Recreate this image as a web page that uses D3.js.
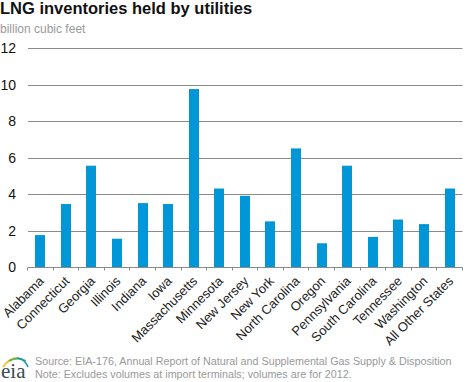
<!DOCTYPE html>
<html>
<head>
<meta charset="utf-8">
<script src="https://cdn.jsdelivr.net/npm/d3@7"></script>
<style>
  html, body { margin: 0; padding: 0; background: #fff; }
  svg { display: block; font-family: "Liberation Sans", Arial, sans-serif; }
</style>
</head>
<body>
<svg id="chart" width="468" height="382"></svg>
<script>
const states = ["Alabama", "Connecticut", "Georgia", "Illinois", "Indiana", "Iowa", "Massachusetts",
  "Minnesota", "New Jersey", "New York", "North Carolina", "Oregon", "Pennsylvania",
  "South Carolina", "Tennessee", "Washington", "All Other States"];
const inventories = [1.75, 3.45, 5.55, 1.55, 3.5, 3.45, 9.75, 4.3, 3.9, 2.5, 6.5, 1.3, 5.55, 1.65, 2.6, 2.35, 4.3];
const yTicks = [0, 2, 4, 6, 8, 10, 12];
const sourceLines = [
  "Source: EIA-176, Annual Report of Natural and Supplemental Gas Supply & Disposition",
  "Note: Excludes volumes at import terminals; volumes are for 2012."
];

const margin = { top: 48, left: 27.5, right: 5.5, bottom: 115 };
const width = 468, height = 382;
const svg = d3.select("#chart");

const x = d3.scaleBand().domain(states).range([margin.left, width - margin.right]).paddingInner(0.6).paddingOuter(0.3);
const y = d3.scaleLinear().domain([0, 12]).range([height - margin.bottom, margin.top]);

// title
svg.append("text").attr("x", 0).attr("y", 14).attr("fill", "#111")
  .style("font-size", "16.5px").style("font-weight", "bold").text("LNG inventories held by utilities");
svg.append("text").attr("x", 0).attr("y", 33).attr("fill", "#999")
  .style("font-size", "12px").text("billion cubic feet");

// gridlines
svg.append("g").selectAll("line").data(yTicks.slice(1)).join("line")
  .attr("x1", 28).attr("x2", width - margin.right)
  .attr("y1", d => Math.round(y(d)) + 0.5).attr("y2", d => Math.round(y(d)) + 0.5)
  .attr("stroke", "#8a8a8a").attr("stroke-width", 1);

// y labels
svg.append("g").selectAll("text").data(yTicks).join("text")
  .attr("x", 16).attr("y", d => y(d) + 5).attr("text-anchor", "end")
  .attr("fill", "#111").style("font-size", "14px").text(d => d);

// bars
svg.append("g").selectAll("rect").data(inventories).join("rect")
  .attr("x", (d, i) => Math.round(x(states[i]))).attr("width", Math.round(x.bandwidth()))
  .attr("y", d => y(d)).attr("height", d => y(0) - y(d))
  .attr("fill", "#0096d7");

// x axis
const axis = svg.append("g").attr("transform", `translate(0,${Math.round(y(0)) + 0.5})`);
axis.append("line").attr("x1", 28).attr("x2", width - margin.right).attr("stroke", "#8a8a8a");
axis.selectAll("line.tick").data(d3.range(states.length + 1)).join("line").attr("class", "tick")
  .attr("x1", i => Math.floor(margin.left + i * x.step()) + 0.5)
  .attr("x2", i => Math.floor(margin.left + i * x.step()) + 0.5)
  .attr("y1", 0).attr("y2", 3).attr("stroke", "#8a8a8a");
axis.selectAll("text").data(states).join("text")
  .attr("text-anchor", "end").attr("fill", "#222").style("font-size", "13px")
  .attr("transform", d => `translate(${x(d) + x.bandwidth() / 2 - 2},${8}) rotate(-45) translate(0,9)`)
  .text(d => d);

// source note
svg.append("g").selectAll("text").data(sourceLines).join("text")
  .attr("x", 35).attr("y", (d, i) => 365 + i * 13.3)
  .attr("fill", "#999").style("font-size", "10.75px").text(d => d);

// eia logo
const logo = svg.append("g");
logo.append("path").attr("d", "M3,367 Q9,358 18,358").attr("fill", "none").attr("stroke", "#f2c230").attr("stroke-width", 2);
logo.append("path").attr("d", "M9,361 Q18,356 26,361").attr("fill", "none").attr("stroke", "#5bb65a").attr("stroke-width", 1.8);
logo.append("path").attr("d", "M17,358 Q25,359 28,367").attr("fill", "none").attr("stroke", "#1a8fc9").attr("stroke-width", 1.6);
logo.append("text").attr("x", 1).attr("y", 378).attr("fill", "#3a4a55")
  .style("font-family", "'Liberation Serif', serif").style("font-size", "21px").text("eia");
</script>
</body>
</html>
